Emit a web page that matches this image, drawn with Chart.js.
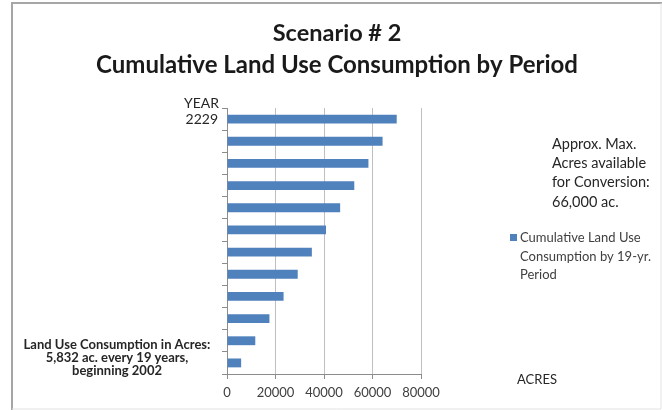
<!DOCTYPE html>
<html>
<head>
<meta charset="utf-8">
<script src="https://cdn.jsdelivr.net/npm/chart.js@4"></script>
<style>
body{margin:0;background:#fff;}
#wrap{width:662px;height:410px;}
</style>
</head>
<body>
<div id="wrap"><canvas id="landChart"></canvas></div>
<script>
// periods, top bar = latest (2229)
const periods = ["2229","","","","","","","","","","",""];
const acres = [69984,64152,58320,52488,46656,40824,34992,29160,23328,17496,11664,5832];
const acreTicks = [0,20000,40000,60000,80000];

const titleLines = ["Scenario # 2","Cumulative Land Use Consumption by Period"];
const noteLines = ["Land Use Consumption in Acres:","5,832 ac. every 19 years,","beginning 2002"];
const maxLines = ["Approx. Max.","Acres available","for Conversion:","66,000 ac."];
const legendLines = ["Cumulative Land Use","Consumption by 19-yr.","Period"];

const FONT = "Lato, 'Open Sans', sans-serif";

const textPlugin = {
id:"texts",
afterDraw(chart){
const ctx = chart.ctx;
ctx.save();

// frame
ctx.strokeStyle = "#a6a6a6";
ctx.lineWidth = 2;
ctx.beginPath();
ctx.moveTo(12,410);
ctx.lineTo(12,3);
ctx.lineTo(662,3);
ctx.stroke();
ctx.strokeStyle = "#e2e2e2";
ctx.lineWidth = 1;
ctx.beginPath();
ctx.moveTo(661,3);
ctx.lineTo(661,409);
ctx.lineTo(12,409);
ctx.stroke();

ctx.textBaseline = "middle";

// title
ctx.fillStyle = "#1a1a1a";
ctx.textAlign = "center";
ctx.font = "bold 23.5px " + FONT;
ctx.fillText(titleLines[0],337,33);
ctx.font = "bold 24px " + FONT;
ctx.fillText(titleLines[1],337,65);

// YEAR
ctx.fillStyle = "#262626";
ctx.textAlign = "right";
ctx.font = "14px " + FONT;
ctx.fillText("YEAR",219,103);

// note bottom left
ctx.textAlign = "center";
ctx.font = "bold 13px " + FONT;
noteLines.forEach((t,i)=>ctx.fillText(t,117,345+i*12.8));

// max acres
ctx.textAlign = "left";
ctx.font = "14.5px " + FONT;
maxLines.forEach((t,i)=>ctx.fillText(t,552,144+i*19.3));

// legend
ctx.fillStyle = "#4f81bd";
ctx.fillRect(510,234,7,7);
ctx.fillStyle = "#404040";
ctx.font = "13px " + FONT;
legendLines.forEach((t,i)=>ctx.fillText(t,520,238+i*18.5));

// axis name
ctx.fillStyle = "#262626";
ctx.textAlign = "center";
ctx.font = "13px " + FONT;
ctx.fillText("ACRES",537,380);

ctx.restore();
}
};

new Chart(document.getElementById("landChart"),{
type:"bar",
data:{
labels:periods,
datasets:[{
label:legendLines.join(" "),
data:acres,
backgroundColor:"#4f81bd",
categoryPercentage:1,
barPercentage:0.4
}]
},
options:{
indexAxis:"y",
responsive:true,
maintainAspectRatio:false,
animation:false,
layout:{
padding:{left:0,top:108,right:241,bottom:0}
},
plugins:{
legend:{display:false},
title:{display:false},
tooltip:{enabled:false}
},
scales:{
x:{
min:0,
max:80000,
afterBuildTicks(scale){
scale.ticks = acreTicks.map(v=>({value:v}));
},
afterFit(scale){
scale.height = 36;
},
grid:{color:"#bfbfbf",tickLength:5,tickColor:"#8c8c8c"},
border:{color:"#8c8c8c"},
ticks:{
color:"#404040",
font:{family:FONT,size:13},
padding:6,
callback:v=>String(v)
}
},
y:{
afterFit(scale){
scale.width = 227;
},
grid:{drawOnChartArea:false,offset:true,tickLength:5,color:"#8c8c8c"},
border:{color:"#8c8c8c"},
ticks:{color:"#262626",font:{family:FONT,size:14},padding:4}
}
}
},
plugins:[textPlugin]
});
</script>
</body>
</html>
